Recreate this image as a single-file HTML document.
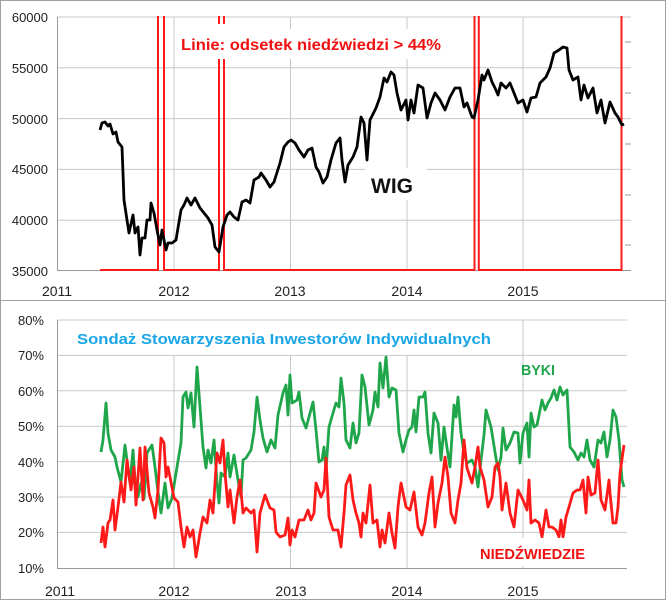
<!DOCTYPE html>
<html><head><meta charset="utf-8"><style>
body{margin:0;background:#fff}
svg{display:block;font-family:"Liberation Sans",sans-serif}
</style></head><body>
<svg width="666" height="600" viewBox="0 0 666 600" xmlns="http://www.w3.org/2000/svg">
<rect x="0.5" y="0.5" width="665" height="599" fill="#fff" stroke="#a0a0a0"/>
<line x1="0" y1="300.5" x2="666" y2="300.5" stroke="#a0a0a0"/>
<!-- TOP -->
<g stroke="#c8c8c8" stroke-width="1">
<line x1="57" y1="17" x2="631" y2="17"/><line x1="57" y1="67.8" x2="631" y2="67.8"/><line x1="57" y1="118.6" x2="631" y2="118.6"/><line x1="57" y1="169.4" x2="631" y2="169.4"/><line x1="57" y1="220.2" x2="631" y2="220.2"/>
<line x1="174" y1="17" x2="174" y2="270"/><line x1="290.5" y1="17" x2="290.5" y2="270"/><line x1="407" y1="17" x2="407" y2="270"/><line x1="523" y1="17" x2="523" y2="270"/>
</g>
<line x1="57.5" y1="17" x2="57.5" y2="271" stroke="#999"/>
<line x1="57" y1="270.5" x2="631" y2="270.5" stroke="#999"/>
<g stroke="#999"><line x1="625" y1="42" x2="631" y2="42"/><line x1="625" y1="93" x2="631" y2="93"/><line x1="625" y1="144" x2="631" y2="144"/><line x1="625" y1="195" x2="631" y2="195"/><line x1="625" y1="245" x2="631" y2="245"/></g>
<g font-size="13" fill="#222" text-anchor="end">
<text x="48" y="22">60000</text><text x="48" y="73">55000</text><text x="48" y="124">50000</text><text x="48" y="174">45000</text><text x="48" y="225">40000</text><text x="48" y="276">35000</text>
</g>
<g font-size="14" fill="#222" text-anchor="middle">
<text x="57" y="296">2011</text><text x="174" y="296">2012</text><text x="290" y="296">2013</text><text x="407" y="296">2014</text><text x="523" y="296">2015</text>
</g>
<path d="M100 270H158V16M164 16V270H219V16M224 16V270H474.5V16M478.8 16V270H621.5V16" fill="none" stroke="#ff1a1a" stroke-width="2"/>
<rect x="176" y="29" width="270" height="30" fill="#fff"/>
<rect x="214" y="24" width="14" height="6" fill="#fff"/>
<text x="181" y="50" font-size="15.5" font-weight="bold" fill="#f01010" textLength="260" lengthAdjust="spacingAndGlyphs">Linie: odsetek niedźwiedzi &gt; 44%</text>
<rect x="365" y="168" width="62" height="32" fill="#fff"/>
<text x="371" y="193" font-size="21" font-weight="bold" fill="#111">WIG</text>
<polyline fill="none" stroke="#000" stroke-width="2.8" stroke-linejoin="round" points="100,130 102,123 105,122 108,126 110,124 113,134 116,132 118,142 122,147 124,200 127,220 129,233 133,215 135,233 138,227 140,255 142,238 145,238 147,220 150,220 151,203 154,213 157,230 160,245 162,230 166,250 168,243 172,243 176,240 181,210 184,205 187,198 191,205 195,198 200,208 204,213 208,218 212,225 215,247 219,252 223,227 227,215 230,212 234,217 238,220 242,202 246,200 250,203 254,180 259,177 261,173 266,180 270,187 274,182 280,163 284,147 288,142 291,140 295,143 299,150 304,157 308,150 312,148 316,167 319,172 323,183 327,177 331,160 336,143 340,138 342,160 345,182 348,165 353,157 357,147 361,117 364,123 367,160 370,120 376,108 380,97 384,78 387,82 391,72 394,75 397,93 401,110 406,100 408,120 411,100 414,113 418,85 423,88 427,118 431,103 435,93 440,100 445,110 450,97 455,88 460,88 464,107 467,103 472,117 474,118 478,100 482,75 484,80 488,70 492,82 495,88 498,95 501,83 506,88 510,83 514,93 518,103 523,100 527,112 531,98 536,97 540,83 546,77 550,68 554,53 559,50 563,47 567,48 569,70 573,80 578,77 581,100 584,85 588,98 593,88 597,113 601,100 605,123 610,102 615,113 618,117 622,125 624,124"/>
<!-- BOTTOM -->
<g stroke="#c8c8c8">
<line x1="57" y1="320" x2="627" y2="320"/><line x1="57" y1="355.4" x2="627" y2="355.4"/><line x1="57" y1="390.8" x2="627" y2="390.8"/><line x1="57" y1="426.2" x2="627" y2="426.2"/><line x1="57" y1="461.6" x2="627" y2="461.6"/><line x1="57" y1="497" x2="627" y2="497"/><line x1="57" y1="532.4" x2="627" y2="532.4"/>
<line x1="174" y1="355" x2="174" y2="568"/><line x1="290.5" y1="355" x2="290.5" y2="568"/><line x1="407" y1="355" x2="407" y2="568"/><line x1="523" y1="320" x2="523" y2="568"/>
</g>
<line x1="57.5" y1="320" x2="57.5" y2="569" stroke="#999"/>
<line x1="57" y1="568.5" x2="627" y2="568.5" stroke="#999"/>
<g font-size="13" fill="#222" text-anchor="end">
<text x="44" y="325">80%</text><text x="44" y="360">70%</text><text x="44" y="396">60%</text><text x="44" y="431">50%</text><text x="44" y="467">40%</text><text x="44" y="502">30%</text><text x="44" y="537">20%</text><text x="44" y="573">10%</text>
</g>
<g font-size="14" fill="#222" text-anchor="middle">
<text x="60" y="596">2011</text><text x="174" y="596">2012</text><text x="291" y="596">2013</text><text x="407" y="596">2014</text><text x="523" y="596">2015</text>
</g>
<text x="77" y="344" font-size="15" font-weight="bold" fill="#1aa6e6" textLength="414" lengthAdjust="spacingAndGlyphs">Sondaż Stowarzyszenia Inwestorów Indywidualnych</text>
<polyline fill="none" stroke="#1fa64a" stroke-width="2.8" stroke-linejoin="round" points="101,452 103,440 106,403 108,433 111,450 115,457 117,467 121,482 125,445 130,483 133,450 135,480 138,497 141,483 144,499 147,453 152,445 155,467 158,492 161,513 165,483 168,508 172,498 176,473 181,443 183,397 186,392 188,408 191,393 194,427 197,367 200,407 203,447 206,468 208,450 211,463 214,440 217,482 219,503 221,473 225,477 228,453 230,477 234,455 238,480 241,497 243,460 246,458 251,450 254,432 257,397 260,420 263,438 267,452 271,440 275,448 278,415 283,393 286,385 288,415 290,375 292,403 297,400 299,392 302,418 306,428 309,417 313,402 316,430 319,462 322,460 324,447 326,470 329,427 333,413 336,403 339,407 341,378 344,403 346,440 350,448 353,423 356,443 359,433 362,375 365,387 369,425 373,410 375,392 378,407 380,363 383,388 386,357 389,397 392,388 396,390 399,433 403,452 406,440 409,430 412,427 414,410 416,432 419,397 423,397 425,392 428,433 431,453 434,413 438,423 441,460 444,427 447,448 450,467 454,405 456,417 458,397 461,433 464,453 467,463 472,460 475,467 478,487 481,460 484,435 486,410 491,427 495,452 498,470 501,457 503,428 506,450 510,443 514,432 518,433 520,463 523,433 527,423 529,457 531,413 534,427 537,425 542,400 545,410 548,403 551,398 554,390 557,400 560,387 563,395 567,390 570,447 574,452 578,460 581,453 584,457 587,440 590,460 594,467 598,440 601,443 604,432 607,457 610,440 613,410 616,417 619,440 622,480 624,487"/>
<polyline fill="none" stroke="#ff1a1a" stroke-width="2.8" stroke-linejoin="round" points="101,543 103,527 105,547 108,523 110,520 113,500 115,530 118,507 121,482 124,502 127,460 131,490 134,467 136,505 140,448 143,500 145,447 149,493 153,507 155,518 158,490 161,438 164,443 166,477 168,467 170,477 174,498 178,502 181,527 184,547 187,527 190,537 193,530 196,557 200,533 203,517 207,523 210,500 213,513 217,453 220,463 223,440 225,473 228,507 230,490 234,523 237,497 240,480 243,513 246,508 251,513 254,510 257,552 260,513 265,495 270,508 274,510 276,532 280,537 285,535 288,518 290,545 292,530 295,537 299,520 304,520 308,510 311,520 314,513 316,483 321,497 324,490 326,458 329,517 333,530 338,530 341,547 344,513 346,485 350,475 353,500 356,513 359,523 361,537 363,513 366,523 370,485 373,523 377,520 380,547 382,530 385,543 389,513 392,533 395,548 398,507 401,483 406,507 410,510 414,492 418,527 422,535 425,523 429,493 432,477 435,527 438,503 442,483 445,457 448,477 451,513 455,523 458,500 461,483 464,440 467,468 472,483 475,467 478,447 480,467 484,480 488,507 492,497 495,467 498,463 500,477 502,510 506,483 510,513 514,527 518,490 523,500 527,510 529,480 531,523 535,520 539,523 542,537 546,510 549,527 552,527 556,530 559,537 561,520 563,537 566,517 569,507 573,493 577,490 580,490 583,480 586,513 588,477 591,495 595,493 598,460 601,500 605,510 609,480 610,493 613,523 616,523 618,507 620,473 624,445"/>
<text x="521" y="375" font-size="15" font-weight="bold" fill="#1fa64a" textLength="34" lengthAdjust="spacingAndGlyphs">BYKI</text>
<rect x="472" y="538" width="120" height="28" fill="#fff"/>
<text x="480" y="559" font-size="15" font-weight="bold" fill="#f01010" textLength="105" lengthAdjust="spacingAndGlyphs">NIEDŹWIEDZIE</text>
</svg>
</body></html>
